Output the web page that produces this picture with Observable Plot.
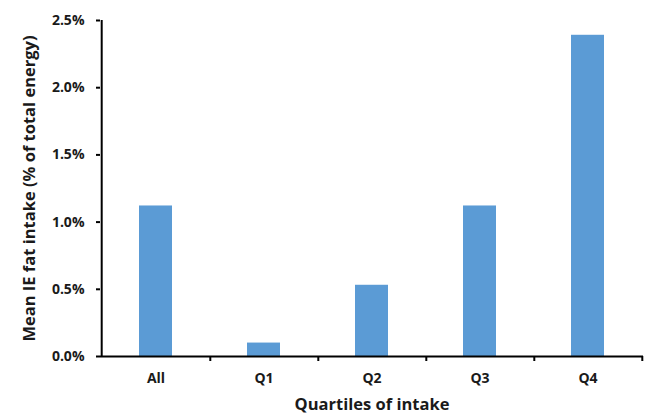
<!DOCTYPE html>
<html>
<head>
<meta charset="utf-8">
<script src="https://cdn.jsdelivr.net/npm/d3@7"></script>
<script src="https://cdn.jsdelivr.net/npm/@observablehq/plot@0.6"></script>
<style>
  html, body { margin: 0; padding: 0; background: #fff; }
</style>
</head>
<body>
<div id="chart"></div>
<script>
const categories = ["All", "Q1", "Q2", "Q3", "Q4"];
const values = [0.0112, 0.0010, 0.0053, 0.0112, 0.0239];
const yTicks = [0, 0.005, 0.010, 0.015, 0.020, 0.025];
const yTitle = "Mean IE fat intake (% of total energy)";
const xTitle = "Quartiles of intake";

const data = categories.map((c, i) => ({category: c, value: values[i]}));

const W = 646, H = 416, mL = 100, mR = 3;
const step = (W - mL - mR) / categories.length;

const chart = Plot.plot({
  width: W,
  height: H,
  marginLeft: mL,
  marginRight: mR,
  marginTop: 20,
  marginBottom: 60,
  style: {fontFamily: "'Open Sans', sans-serif", fontWeight: "bold", color: "#1a1a1a", background: "#fff"},
  x: {domain: categories, paddingInner: 0.69, paddingOuter: 0.345},
  y: {domain: [0, 0.025]},
  marks: [
    Plot.barY(data, {x: "category", y: "value", fill: "#5B9BD5"}),
    Plot.axisY({
      ticks: yTicks, tickFormat: d3.format(".1%"), tickSize: 4, tickPadding: 12,
      fontSize: 14, stroke: "#000", strokeWidth: 2,
      label: yTitle, labelAnchor: "center",
      labelArrow: "none", labelOffset: 77
    }),
    Plot.ruleX([categories[0]], {dx: -step / 2, y1: 0, y2: 0.025, stroke: "#000", strokeWidth: 2}),
    Plot.axisX({ticks: categories, tickSize: 5, dx: step / 2, text: null, label: null, stroke: "#000", strokeWidth: 2}),
    Plot.axisX({
      ticks: categories, tickSize: 0, tickPadding: 17, fontSize: 14,
      label: xTitle, labelAnchor: "center", labelArrow: "none", labelOffset: 53
    }),
    Plot.ruleY([0], {stroke: "#000", strokeWidth: 2})
  ]
});

chart.querySelectorAll("text").forEach(t => {
  if (t.textContent === yTitle || t.textContent === xTitle) {
    t.setAttribute("font-size", "16.5");
    t.style.fontSize = "16.5px";
  }
});
document.getElementById("chart").appendChild(chart);
</script>
</body>
</html>
